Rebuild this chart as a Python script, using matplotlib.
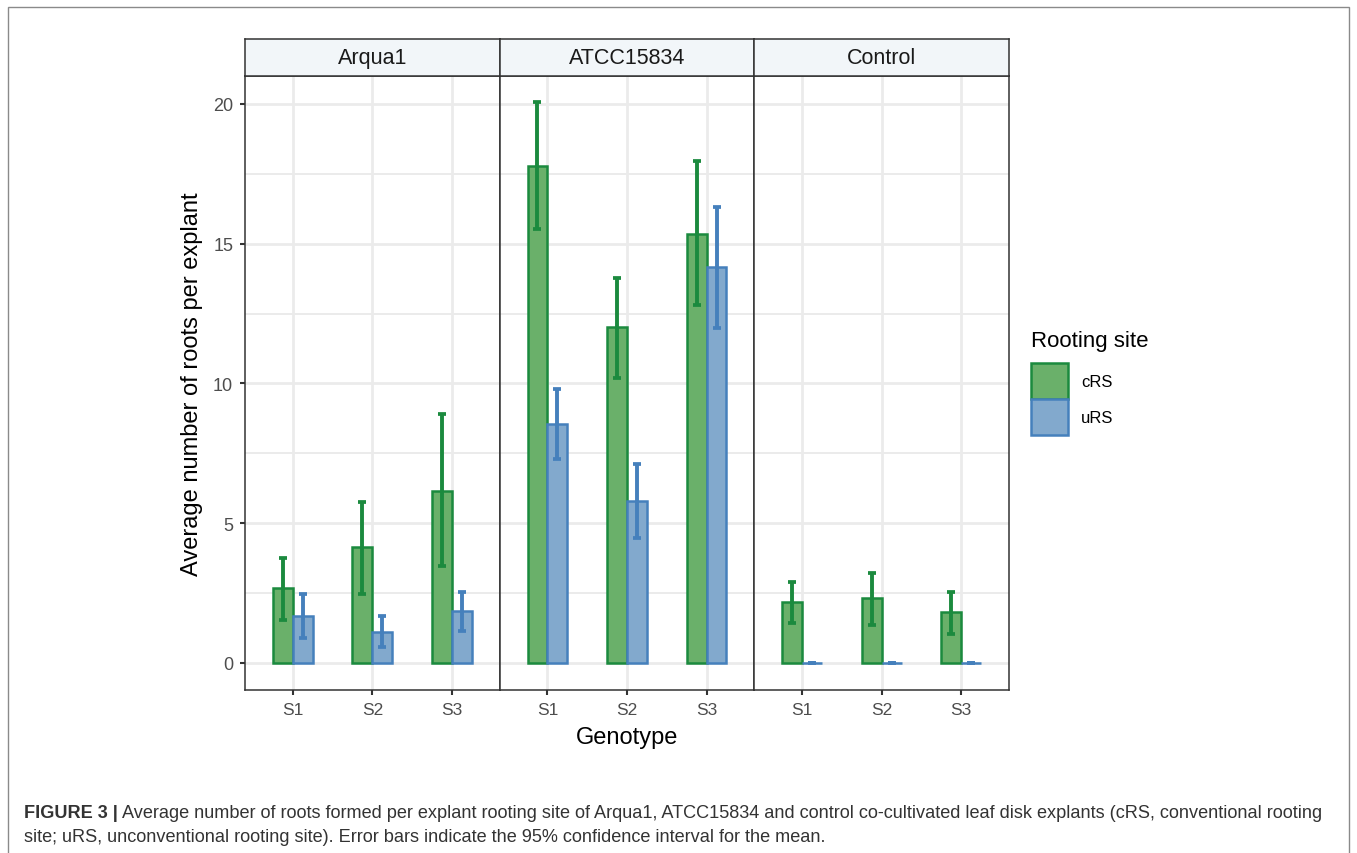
import matplotlib
matplotlib.use("Agg")
import matplotlib.pyplot as plt
from matplotlib.patches import Patch, Rectangle

plt.rcParams['font.family'] = ['Liberation Sans', 'DejaVu Sans']

genotypes = ["Arqua1", "ATCC15834", "Control"]
strains = ["S1", "S2", "S3"]

# mean and 95% CI, one list per genotype panel
crs_mean = [[2.68, 4.14, 6.15], [17.78, 12.02, 15.35], [2.19, 2.31, 1.81]]
crs_lo = [[1.55, 2.47, 3.45], [15.53, 10.20, 12.81], [1.44, 1.37, 1.05]]
crs_hi = [[3.77, 5.76, 8.90], [20.07, 13.77, 17.96], [2.91, 3.22, 2.55]]
urs_mean = [[1.69, 1.12, 1.84], [8.55, 5.80, 14.17], [0.0, 0.0, 0.0]]
urs_lo = [[0.89, 0.58, 1.14], [7.30, 4.47, 11.99], [0.0, 0.0, 0.0]]
urs_hi = [[2.47, 1.66, 2.52], [9.80, 7.12, 16.30], [0.0, 0.0, 0.0]]

green_fill = "#6ab06a"
green_edge = "#1b8a3e"
blue_fill = "#82a9cd"
blue_edge = "#4580bc"

W, H = 1357, 854
fig = plt.figure(figsize=(W / 100, H / 100), dpi=100)

# outer frame around figure + caption
fig.patches.append(Rectangle((8 / W, -0.05), (1349 - 8) / W, 1.05 - 8 / H,
                             transform=fig.transFigure, fill=False,
                             edgecolor="#8a8a8a", linewidth=1.0))

left, right = 245, 1009
top, bottom = 77, 691
strip_top = 40
pw = (right - left) / 3

bw = 0.25
for k, g in enumerate(genotypes):
    x0 = (left + k * pw) / W
    ax = fig.add_axes([x0, (H - bottom) / H, pw / W, (bottom - top) / H])
    xs = list(range(len(strains)))
    xc = [x - bw / 2 for x in xs]
    xu = [x + bw / 2 for x in xs]
    ax.bar(xc, crs_mean[k], width=bw, color=green_fill, edgecolor=green_edge,
           linewidth=1.8, zorder=3)
    ax.bar(xu, urs_mean[k], width=bw, color=blue_fill, edgecolor=blue_edge,
           linewidth=1.8, zorder=3)
    ax.errorbar(xc, crs_mean[k],
                yerr=[[m - l for m, l in zip(crs_mean[k], crs_lo[k])],
                      [h - m for m, h in zip(crs_mean[k], crs_hi[k])]],
                fmt="none", ecolor=green_edge, elinewidth=2.8, capsize=2.9,
                capthick=2.7, zorder=4)
    ax.errorbar(xu, urs_mean[k],
                yerr=[[m - l for m, l in zip(urs_mean[k], urs_lo[k])],
                      [h - m for m, h in zip(urs_mean[k], urs_hi[k])]],
                fmt="none", ecolor=blue_edge, elinewidth=2.8, capsize=2.9,
                capthick=2.7, zorder=4)
    ax.set_xlim(-0.6, 2.6)
    ax.set_ylim(-0.97, 21.0)
    ax.set_xticks(xs)
    ax.set_xticklabels(strains, fontsize=12.5, color="#4d4d4d")
    ax.set_yticks([0, 5, 10, 15, 20])
    ax.set_yticks([2.5, 7.5, 12.5, 17.5], minor=True)
    ax.grid(True, which="major", color="#ebebeb", linewidth=2.0, zorder=0)
    ax.grid(True, which="minor", axis="y", color="#ebebeb", linewidth=1.4, zorder=0)
    ax.set_axisbelow(True)
    for s in ax.spines.values():
        s.set_color("#333333")
        s.set_linewidth(1.1)
    ax.tick_params(axis="both", which="major", length=3.5, color="#333333",
                   width=1.5, pad=5)
    ax.tick_params(axis="y", which="minor", length=0)
    if k == 0:
        ax.set_yticklabels(["0", "5", "10", "15", "20"], fontsize=13,
                           color="#4d4d4d")
    else:
        ax.tick_params(axis="y", which="major", length=0, labelleft=False)

    sax = fig.add_axes([x0, (H - top) / H, pw / W, (top - strip_top) / H])
    sax.set_facecolor("#f2f6f9")
    sax.set_xticks([])
    sax.set_yticks([])
    for s in sax.spines.values():
        s.set_color("#333333")
        s.set_linewidth(1.1)
    sax.text(0.5, 0.5, g, ha="center", va="center", fontsize=15.5,
             color="#1a1a1a", transform=sax.transAxes)

fig.text(192 / W, 1 - 384 / H, "Average number of roots per explant",
         rotation=90, ha="center", va="center", fontsize=17, color="black")
fig.text((left + right) / 2 / W, 1 - 738 / H, "Genotype", ha="center",
         va="center", fontsize=17, color="black")

# legend
fig.text(1031 / W, 1 - 341 / H, "Rooting site", ha="left", va="center",
         fontsize=16, color="black")
handles = [Patch(facecolor=green_fill, edgecolor=green_edge, linewidth=1.8, label="cRS"),
           Patch(facecolor=blue_fill, edgecolor=blue_edge, linewidth=1.8, label="uRS")]
fig.legend(handles=handles, loc="upper left",
           bbox_to_anchor=(1031 / W, 1 - 364 / H), frameon=False,
           fontsize=12, handlelength=2.2, handleheight=2.9, labelspacing=0.05,
           handletextpad=0.8, borderpad=0, borderaxespad=0)

# caption
r = fig.canvas.get_renderer()
cap_y1 = 1 - 814 / H
cap_y2 = 1 - 838 / H
t1 = fig.text(24 / W, cap_y1, "FIGURE 3 |", fontweight="bold",
              fontsize=13.1, color="#333333", va="center")
bb = t1.get_window_extent(renderer=r)
fig.text(bb.x1 / W + 4 / W, cap_y1,
         "Average number of roots formed per explant rooting site of Arqua1, ATCC15834 and control "
         "co-cultivated leaf disk explants (cRS, conventional rooting",
         fontsize=13.1, color="#333333", va="center")
fig.text(24 / W, cap_y2,
         "site; uRS, unconventional rooting site). Error bars indicate the 95% confidence interval for the mean.",
         fontsize=13.1, color="#333333", va="center")

fig.savefig("out.png", dpi=100)
